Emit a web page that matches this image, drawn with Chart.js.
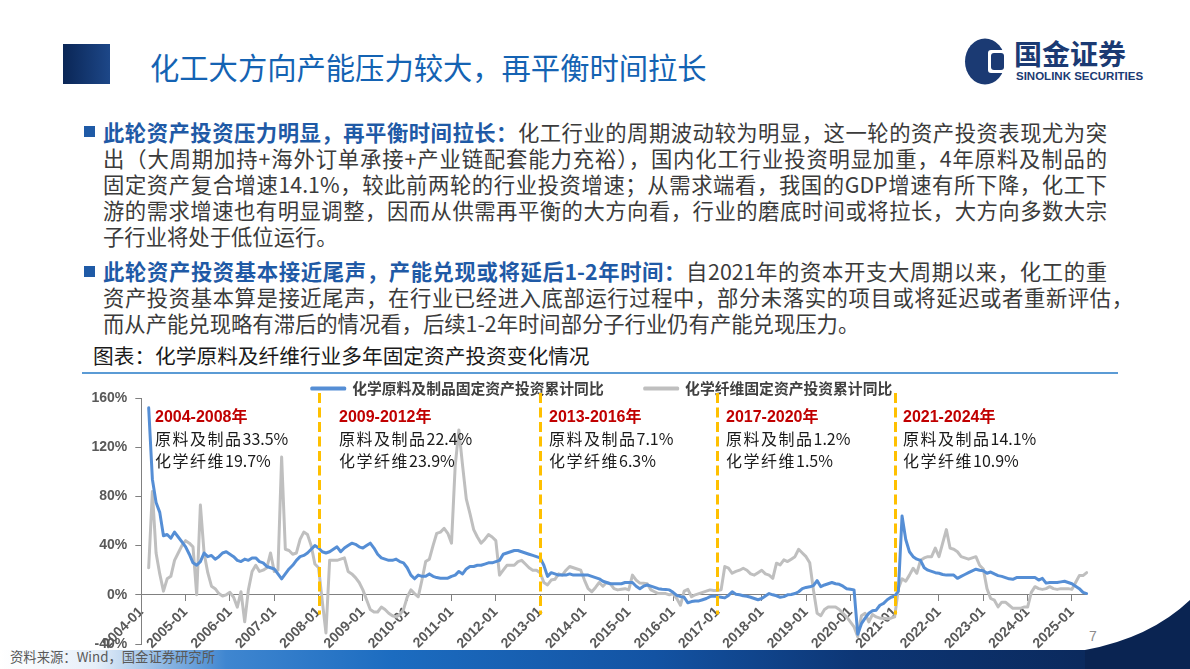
<!DOCTYPE html>
<html><head><meta charset="utf-8">
<script src="https://cdn.jsdelivr.net/npm/chart.js@4.4.1/dist/chart.umd.min.js"></script>
<style>
html,body{margin:0;padding:0;background:#fff;}
#page{position:relative;width:1190px;height:669px;overflow:hidden;font-family:"Noto Sans CJK SC","Noto Sans",sans-serif;}
.abs{position:absolute;white-space:nowrap;}
.ln{position:absolute;left:103px;font-size:21.33px;line-height:26px;height:26px;color:#3b3b3b;white-space:normal;}
.j{text-align:justify;text-align-last:justify;}
.hl{color:#1f5aa6;font-weight:bold;}
.sq{position:absolute;left:84px;width:11px;height:11px;background:#1f5aa6;}
.ann{position:absolute;white-space:nowrap;}
.ann .t{font-family:"Liberation Sans","Noto Sans CJK SC",sans-serif;font-weight:bold;font-size:16px;line-height:20px;color:#C00000;}
.ann .l{font-size:16px;line-height:22px;color:#1a1a1a;letter-spacing:1.5px;}
.ann .l span{letter-spacing:0;}
</style></head>
<body><div id="page">
<div class="abs" style="left:63px;top:44px;width:47px;height:40px;background:linear-gradient(90deg,#0a2656,#1d4788);"></div>
<div class="abs" style="left:150px;top:47px;font-size:29.3px;line-height:38px;color:#1463b3;">化工大方向产能压力较大，再平衡时间拉长</div>
<svg class="abs" style="left:960px;top:34px" width="50" height="56">
  <ellipse cx="25" cy="27.5" rx="20" ry="23" fill="#1b3a73"/>
  <rect x="28" y="16" width="19" height="23" rx="3" fill="#fff"/>
  <rect x="31" y="19" width="13" height="17" rx="3" fill="#1b3a73"/>
</svg>
<div class="abs" style="left:1014px;top:37px;font-size:28px;line-height:32px;font-weight:bold;color:#1b3a73;">国金证券</div>
<div class="abs" style="left:1016px;top:69px;font-family:'Liberation Sans',Arial,sans-serif;font-size:11.5px;line-height:14px;font-weight:bold;color:#1b3a73;">SINOLINK SECURITIES</div>

<div class="sq" style="top:126px"></div>
<div class="ln j" style="top:119px;width:1004px"><span class="hl">此轮资产投资压力明显，再平衡时间拉长：</span>化工行业的周期波动较为明显，这一轮的资产投资表现尤为突</div>
<div class="ln j" style="top:145px;width:1004px">出（大周期加持+海外订单承接+产业链配套能力充裕），国内化工行业投资明显加重，4年原料及制品的</div>
<div class="ln j" style="top:171px;width:1004px">固定资产复合增速14.1%，较此前两轮的行业投资增速；从需求端看，我国的GDP增速有所下降，化工下</div>
<div class="ln j" style="top:197px;width:1004px">游的需求增速也有明显调整，因而从供需再平衡的大方向看，行业的磨底时间或将拉长，大方向多数大宗</div>
<div class="ln" style="top:223px">子行业将处于低位运行。</div>
<div class="sq" style="top:266px"></div>
<div class="ln j" style="top:258px;width:1004px"><span class="hl">此轮资产投资基本接近尾声，产能兑现或将延后1-2年时间：</span>自2021年的资本开支大周期以来，化工的重</div>
<div class="ln j" style="top:284px;width:1030px">资产投资基本算是接近尾声，在行业已经进入底部运行过程中，部分未落实的项目或将延迟或者重新评估，</div>
<div class="ln" style="top:310px">而从产能兑现略有滞后的情况看，后续1-2年时间部分子行业仍有产能兑现压力。</div>
<div class="abs" style="left:93px;top:342px;font-size:20.7px;line-height:26px;color:#1a1a1a;">图表：化学原料及纤维行业多年固定资产投资变化情况</div>

<div class="abs" style="left:82px;top:372px;width:1036px;height:1.5px;background:#5b9bd5;"></div>

<svg class="abs" style="left:0;top:590px" width="1190" height="79">
  <defs><linearGradient id="bg" x1="0" x2="1190" gradientUnits="userSpaceOnUse">
    <stop offset="0" stop-color="#ffffff"/><stop offset="0.08" stop-color="#e6eff9"/>
    <stop offset="0.19" stop-color="#3f86d0"/><stop offset="0.33" stop-color="#1c6cc0"/>
    <stop offset="0.55" stop-color="#1353a3"/><stop offset="0.72" stop-color="#0d3675"/>
    <stop offset="1" stop-color="#0a2452"/></linearGradient></defs>
  <rect x="0" y="60" width="1190" height="19" fill="url(#bg)"/>
  <path d="M1085,60 Q1150,48 1190,10 L1190,79 L1085,79 Z" fill="#0a2452"/>
</svg>
<div class="abs" style="left:10px;top:649px;font-size:13.33px;line-height:16px;color:#595959;">资料来源：Wind，国金证券研究所</div>
<div class="abs" style="left:1089px;top:628px;font-family:'Liberation Sans',Arial,sans-serif;font-size:14px;line-height:16px;color:#8c8c8c;">7</div>

<canvas id="c" width="1040" height="329" style="position:absolute;left:82px;top:340px;"></canvas>
<div id="anns"></div>
</div>
<script>
// ---------- data ----------
const months = [];
for (let yr = 2004; yr <= 2025; yr++) {
  for (let mo = 1; mo <= 12; mo++) {
    if (yr === 2025 && mo > 5) break;
    months.push(yr + '-' + String(mo).padStart(2, '0'));
  }
}
const seriesNames = ['化学原料及制品固定资产投资累计同比', '化学纤维固定资产投资累计同比'];
// 化学原料及化学制品 固定资产投资累计同比 (%), monthly 2004-01 .. 2025-05
const chemRaw = [
  null, null, 152, 94, 75, 67, 48, 49, 46, 51, 47, 43,          // 2004
  39, 33, 26, 24, 27, 34, 31, 32, 29, 31, 34, 35,               // 2005
  33, 31, 28, 27, 29, 28, 30, 30, 27, 26, 23, 22,               // 2006
  21, 17, 13, 17, 21, 24, 28, 31, 32, 34, 37, 40,               // 2007
  38, 35, 34, 35, 37, 39, 35, 38, 40, 42, 41, 39,               // 2008
  38, 40, 42, 38, 33, 30, 29, 28, 28, 29, 27, 26,               // 2009
  22, 16, 13, 16, 15, 15, 17, 15, 14, 13.5, 13.5, 13.5,         // 2010
  15, 16, 19, 17, 21, 23, 23, 24, 24, 25, 26, 26,               // 2011
  27, 28, 33, 34, 35, 36, 36, 35, 34, 33, 32, 31,               // 2012
  30, 24, 15, 18, 17, 16, 16, 16, 17, 16, 16, 16,               // 2013
  16, 16, 15, 14, 13, 11, 10, 9, 9, 9, 9, 10,                   // 2014
  10, 10, 7, 5, 7, 8, 7, 6, 5, 4.5, 4.4, 4,                     // 2015
  2, -0.5, -1.5, -2, -6.5, -5.5, -5, -5, -4, -3, -1.5, -1,      // 2016
  -1.5, -2, -2.5, -0.5, 2.5, 0.5, 0, -0.8, -1.2, -2, -3, -4,    // 2017
  -3, -1, 1, 0, -0.8, -2, -1.5, 0, 0.3, 1, 2.5, 5,              // 2018
  6, 6.5, 7.5, 11.5, 6.6, 8, 9, 10, 9, 8.5, 7, 5,               // 2019
  4.5, 4, -32, -23.5, -19, -15, -13, -12.5, -8.5, -7, -4, -2,   // 2020
  -1, 3, 64, 45, 35, 31, 29, 28, 22, 20, 19, 18,                // 2021
  17.5, 16.5, 16, 16, 16, 13.4, 15, 16.5, 18, 19.5, 20.8, 20,   // 2022
  19.5, 17.5, 18.5, 17, 15.6, 15, 14, 13, 12.6, 14, 14, 14,     // 2023
  14, 14, 14, 12, 13.4, 9.5, 10, 10, 10, 10.5, 11, 10,          // 2024
  9, 7, 5, 2, 1                                                 // 2025
];
// 化学纤维 固定资产投资累计同比 (%)
const chemFiber = [
  null, null, 22, 84, 34, 17, 3, 13, 15, 28, 34, 40,            // 2004
  44, 42, 39, 0, 73, 34, 18, 7, 5, 1, -1, 0,                    // 2005
  2, -2, -10, 2.5, -22, 4, 19, 24, 19, 20, 22, 34,              // 2006
  19, 20, 112, 37, 36, 33, 34, 45, 51, 49, 40, 25,              // 2007
  22, -5, -31, 28, 28, 28, 29, 30, 19, 17, 14, 10,              // 2008
  4, -4, -12, -14, -14, -10, -12, -15, -17, -18, -16, -12,      // 2009
  -2, 4, 1, -1.6, 12, 27, 29, 40, 50, 51, 54, 50,               // 2010
  42, 105, 134, 105, 78, 66, 53, 47, 42, 45, 49, 47,            // 2011
  44, 16, 20, 24, 24, 24, 27, 28, 25, 22, 20, 20,               // 2012
  18, 10, 8, 12, 12.6, 17, 16, 20, 23, 22, 21, 20,              // 2013
  12, 5, 2.5, 6, 10, 7, 10, 9, 5, 4, 4.5, 5,                    // 2014
  4, 16, 12, 9.5, 9.3, 9, 4, 2.5, 1, 1, 1, 0,                   // 2015
  1, -3, -8.5, 3, 4.4, -1.6, 0, 1, 2, 3, 4, 3.5,                // 2016
  3.5, 4, 23, 21.6, 17.5, 19, 20, 21.6, 20, 17, 16, 18,         // 2017
  20, 17, 16, 13.4, 25.7, 24.3, 28.4, 27, 29, 31, 37, 34,       // 2018
  31, 26, 4, -15, -17, -12, -10, -10, -10, -12, -15, -18,       // 2019
  -22, -26, -34, -17, -15, -22, -16, -18, -19, -19, -19.4, -19, // 2020
  -18, 5, 13, 11, 16, 21.6, 17.5, 28, 30, 31, 31, 38,           // 2021
  31, 42, 53, 38, 37, 35, 31, 30, 29, 30, 31, 24,               // 2022
  21, 5, -3, -4.4, -9.8, -6, -6, -8.5, -11, -11, -11, -10,      // 2023
  -10, 2, 6.6, 5, 4.4, 5, 6.6, 5, 4.4, 5, 5, 5,                 // 2024
  4.4, 10, 15.6, 15.6, 18                                       // 2025
];
const yTicks = [-40, 0, 40, 80, 120, 160];
const periodStarts = ['2008-01', '2013-01', '2017-01', '2021-01'];
const periodTitles = ['2004-2008年', '2009-2012年', '2013-2016年', '2017-2020年', '2021-2024年'];
const rawCagr = ['33.5%', '22.4%', '7.1%', '1.2%', '14.1%'];
const fiberCagr = ['19.7%', '23.9%', '6.3%', '1.5%', '10.9%'];

// ---------- annotations (text) ----------
const annLeft = [155, 339, 549, 726, 903];
document.getElementById('anns').innerHTML = periodTitles.map((t, i) =>
  '<div class="ann" style="left:' + annLeft[i] + 'px;top:407px">' +
  '<div class="t">' + t + '</div>' +
  '<div class="l">原料及制品<span>' + rawCagr[i] + '</span></div>' +
  '<div class="l">化学纤维<span>' + fiberCagr[i] + '</span></div></div>').join('');

// ---------- chart ----------
const periodLines = {
  id: 'periodLines',
  afterDatasetsDraw(chart) {
    const {ctx, scales: {x, y}} = chart;
    ctx.save();
    ctx.strokeStyle = '#FFC000';
    ctx.lineWidth = 3;
    ctx.setLineDash([10, 4.5]);
    periodStarts.forEach(lbl => {
      const px = Math.round(x.getPixelForValue(months.indexOf(lbl))) + 0.5;
      ctx.beginPath();
      ctx.moveTo(px, y.getPixelForValue(164));
      ctx.lineTo(px, y.getPixelForValue(-16));
      ctx.stroke();
    });
    ctx.restore();
  }
};
const axisFont = {family: '"Liberation Sans", Arial, sans-serif', size: 14, weight: 'bold'};
new Chart(document.getElementById('c'), {
  type: 'line',
  data: {
    labels: months,
    datasets: [
      {label: seriesNames[0], data: chemRaw, borderColor: '#558ED5', backgroundColor: '#558ED5',
       borderWidth: 3, pointRadius: 0, tension: 0, borderJoinStyle: 'round', borderCapStyle: 'round'},
      {label: seriesNames[1], data: chemFiber, borderColor: '#BFBFBF', backgroundColor: '#BFBFBF',
       borderWidth: 3, pointRadius: 0, tension: 0, borderJoinStyle: 'round', borderCapStyle: 'round'}
    ]
  },
  options: {
    responsive: false, animation: false, devicePixelRatio: 1,
    layout: {padding: {left: 0, right: 0, top: 0, bottom: 25}},
    plugins: {
      legend: {position: 'top', maxHeight: 58,
        labels: {boxWidth: 33, boxHeight: 1, padding: 41, color: '#404040',
          font: {family: '"Noto Sans CJK SC", sans-serif', size: 14.8, weight: 'bold'}}},
      tooltip: {enabled: false}
    },
    scales: {
      x: {
        type: 'category', position: {y: 0}, offset: false,
        grid: {display: true, drawOnChartArea: false, drawTicks: true, tickLength: 6, color: '#808080'},
        border: {display: true, color: '#808080', width: 1},
        ticks: {autoSkip: false, minRotation: 45, maxRotation: 45, padding: 3, color: '#595959', font: axisFont,
          callback: function (v) { const l = this.getLabelForValue(v); return l.endsWith('-01') ? l : null; }},
        afterFit: s => { s.height = 0; }
      },
      y: {
        min: yTicks[0], max: yTicks[yTicks.length - 1],
        afterBuildTicks: s => { s.ticks = yTicks.map(v => ({value: v})); },
        grid: {drawOnChartArea: false, drawTicks: true, tickLength: 6, color: '#808080'},
        border: {display: true, color: '#808080', width: 1},
        ticks: {padding: 8, color: '#595959', font: axisFont, callback: v => v + '%'},
        afterFit: s => { s.width = 59.3; }
      },
      yRight: {
        position: 'right', min: yTicks[0], max: yTicks[yTicks.length - 1],
        grid: {display: false, drawTicks: false}, border: {display: false},
        ticks: {display: false},
        afterFit: s => { s.width = 35.3; }
      }
    }
  },
  plugins: [periodLines]
});
</script>
</body></html>
